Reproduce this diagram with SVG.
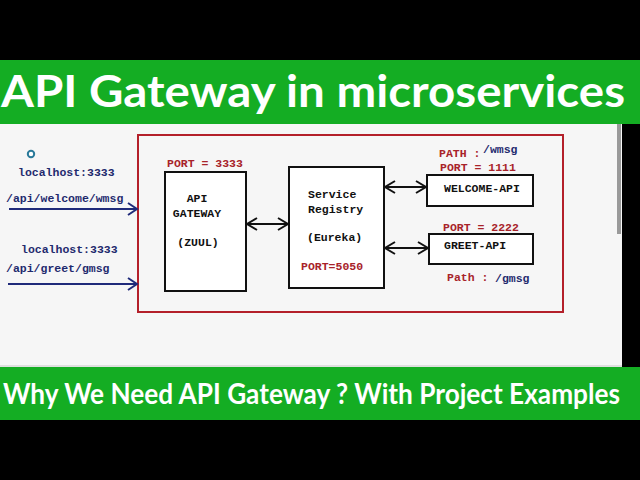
<svg xmlns="http://www.w3.org/2000/svg" width="640" height="480" viewBox="0 0 640 480">
<defs>
<style>
.mono{font-family:"Liberation Mono","DejaVu Sans Mono",monospace;font-weight:bold;font-size:11.5px}
.blk{fill:#111}
.red{fill:#a8232a}
.blu{fill:#1f2a6e}
.box{fill:#fff;stroke:#111;stroke-width:2}
.ban{font-family:Lato,"Open Sans",sans-serif;font-weight:bold;fill:#fff}
.conn{stroke:#111;stroke-width:2;fill:none}
.nav{stroke:#1f2a7a;stroke-width:2.2;fill:none}
</style>
<marker id="ah" viewBox="-12 -8 14 16" markerWidth="14" markerHeight="16" refX="0" refY="0" orient="auto-start-reverse" markerUnits="userSpaceOnUse">
<path d="M-10,-6 L0,0 L-10,6" fill="none" stroke="#111" stroke-width="2"/>
</marker>
<marker id="ahb" viewBox="-12 -8 14 16" markerWidth="14" markerHeight="16" refX="0" refY="0" orient="auto" markerUnits="userSpaceOnUse">
<path d="M-9,-6 L0,0 L-9,6" fill="none" stroke="#1f2a7a" stroke-width="2"/>
</marker>
</defs>
<rect x="0" y="0" width="640" height="480" fill="#000"/>
<rect x="0" y="60" width="640" height="64" fill="#14ad23"/>
<text class="ban" x="1" y="107" font-size="44" textLength="624" lengthAdjust="spacingAndGlyphs">API Gateway in microservices</text>
<rect x="0" y="124" width="622" height="243" fill="#f6f6f6"/>
<rect x="617" y="124" width="4" height="110" fill="#9a9a9a"/>
<line x1="0" y1="366" x2="622" y2="366" stroke="#c8c8c8" stroke-width="1"/>
<rect x="0" y="367" width="640" height="53" fill="#14ad23"/>
<text class="ban" transform="translate(3,404) scale(1,1.1)" x="0" y="0" font-size="25.5" textLength="617" lengthAdjust="spacingAndGlyphs">Why We Need API Gateway ? With Project Examples</text>
<rect x="138" y="135" width="425" height="177" fill="none" stroke="#b4202a" stroke-width="2"/>
<g id="client">
<circle cx="31" cy="154" r="3.2" fill="#fff" stroke="#2a7a9a" stroke-width="2"/>
<text class="mono blu" x="18" y="176">localhost:3333</text>
<text class="mono blu" x="6" y="202">/api/welcome/wmsg</text>
<text class="mono blu" x="21" y="253">localhost:3333</text>
<text class="mono blu" x="6" y="272">/api/greet/gmsg</text>
</g>
<g id="gateway">
<text class="mono red" x="167" y="167">PORT = 3333</text>
<rect class="box" x="165" y="172" width="81" height="119"/>
<text class="mono blk" x="197" y="202" text-anchor="middle">API</text>
<text class="mono blk" x="197" y="217" text-anchor="middle">GATEWAY</text>
<text class="mono blk" x="198" y="246" text-anchor="middle">(ZUUL)</text>
</g>
<g id="registry">
<rect class="box" x="289" y="167" width="95" height="121"/>
<text class="mono blk" x="308" y="198">Service</text>
<text class="mono blk" x="308" y="213">Registry</text>
<text class="mono blk" x="307" y="241">(Eureka)</text>
<text class="mono red" x="301" y="270">PORT=5050</text>
</g>
<g id="welcome">
<text class="mono red" x="439" y="157">PATH :</text>
<text class="mono blu" x="483" y="153">/wmsg</text>
<text class="mono red" x="440" y="171">PORT = 1111</text>
<rect class="box" x="427" y="175" width="106" height="31"/>
<text class="mono blk" x="444" y="192">WELCOME-API</text>
</g>
<g id="greet">
<text class="mono red" x="443" y="231">PORT = 2222</text>
<rect class="box" x="429" y="234" width="104" height="30"/>
<text class="mono blk" x="444" y="249">GREET-API</text>
<text class="mono red" x="447" y="281">Path :</text>
<text class="mono blu" x="495" y="282">/gmsg</text>
</g>
<g id="connectors">
<line class="nav" x1="9" y1="209" x2="137" y2="209" marker-end="url(#ahb)"/>
<line class="nav" x1="8" y1="284" x2="137" y2="284" marker-end="url(#ahb)"/>
<line class="conn" x1="247" y1="224" x2="288" y2="224" marker-start="url(#ah)" marker-end="url(#ah)"/>
<line class="conn" x1="385" y1="187" x2="426" y2="187" marker-start="url(#ah)" marker-end="url(#ah)"/>
<line class="conn" x1="385" y1="248" x2="428" y2="248" marker-start="url(#ah)" marker-end="url(#ah)"/>
</g>
</svg>
